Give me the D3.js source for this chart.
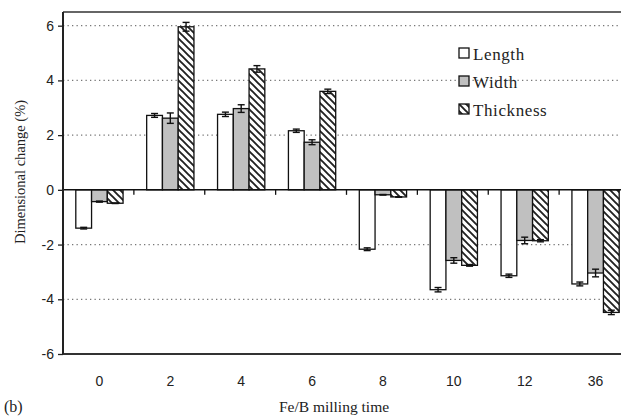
<!DOCTYPE html>
<html><head><meta charset="utf-8">
<script src="https://cdn.jsdelivr.net/npm/d3@7"></script>
<style>
html,body{margin:0;padding:0;background:#fff;}
svg{display:block;}
</style></head>
<body>
<script>
const categories = ["0","2","4","6","8","10","12","36"];
const seriesNames = ["Length","Width","Thickness"];
const lengthVals = [-1.40, 2.72, 2.76, 2.16, -2.17, -3.65, -3.14, -3.44];
const widthVals = [-0.43, 2.62, 2.97, 1.74, -0.18, -2.58, -1.85, -3.04];
const thickVals = [-0.49, 5.96, 4.42, 3.60, -0.26, -2.76, -1.86, -4.48];
const lengthErr = [0.03, 0.07, 0.08, 0.06, 0.05, 0.08, 0.06, 0.07];
const widthErr = [0.02, 0.19, 0.14, 0.09, 0.01, 0.10, 0.12, 0.14];
const thickErr = [0.01, 0.16, 0.12, 0.08, 0.01, 0.03, 0.04, 0.08];
const yTicks = [-6,-4,-2,0,2,4,6];

const W = 621, H = 418;
const m = {left:63, top:12, right:630, bottom:354};

const svg = d3.select("body").append("svg").attr("width",W).attr("height",H);

const defs = svg.append("defs");
const P = 7;
const pat = defs.append("pattern").attr("id","hatch").attr("patternUnits","userSpaceOnUse")
  .attr("width",P).attr("height",P);
pat.append("rect").attr("width",P).attr("height",P).attr("fill","#fff");
pat.append("path").attr("d",`M-1,-1 L${P+1},${P+1} M-1,${P-1} L1,${P+1} M${P-1},-1 L${P+1},1`)
  .attr("stroke","#222").attr("stroke-width",1.9);

const y = d3.scaleLinear().domain([-6,6.5]).range([m.bottom,m.top]);
const x0 = d3.scaleBand().domain(categories).range([m.left,m.right]).padding(0);
const groupW = x0.bandwidth()*0.667;
const x1 = d3.scaleBand().domain(seriesNames).range([0,groupW]).padding(0);
const gOff = (x0.bandwidth()-groupW)/2 + 1;

const fills = {Length:"#ffffff", Width:"#c0c0c0", Thickness:"url(#hatch)"};
const vals = {Length:lengthVals, Width:widthVals, Thickness:thickVals};
const errs = {Length:lengthErr, Width:widthErr, Thickness:thickErr};

// gridlines
svg.append("g").selectAll("line").data(yTicks.filter(d=>d!==0)).join("line")
  .attr("x1",m.left).attr("x2",m.right)
  .attr("y1",d=>y(d)).attr("y2",d=>y(d))
  .attr("stroke","#777").attr("stroke-width",1.2).attr("stroke-dasharray","1.3,3.2");

// plot border (top and bottom)
svg.append("line").attr("x1",m.left).attr("x2",m.right).attr("y1",m.top).attr("y2",m.top)
  .attr("stroke","#333").attr("stroke-width",1.3);
svg.append("line").attr("x1",m.left).attr("x2",m.right).attr("y1",m.bottom).attr("y2",m.bottom)
  .attr("stroke","#333").attr("stroke-width",1.8);

// bars
const rows = [];
categories.forEach((c,i)=>seriesNames.forEach(s=>rows.push({c,s,v:vals[s][i],e:errs[s][i]})));
const barG = svg.append("g");
barG.selectAll("rect").data(rows).join("rect")
  .attr("x",d=>x0(d.c)+gOff+x1(d.s))
  .attr("width",x1.bandwidth())
  .attr("y",d=>y(Math.max(0,d.v)))
  .attr("height",d=>Math.abs(y(d.v)-y(0)))
  .attr("fill",d=>fills[d.s]).attr("stroke","#111").attr("stroke-width",1.3);

// error bars
const eb = svg.append("g").attr("stroke","#111").attr("stroke-width",1.4);
rows.forEach(d=>{
  const cx = x0(d.c)+gOff+x1(d.s)+x1.bandwidth()/2;
  const y1 = y(d.v+d.e), y2 = y(d.v-d.e);
  eb.append("line").attr("x1",cx).attr("x2",cx).attr("y1",y1).attr("y2",y2);
  eb.append("line").attr("x1",cx-3.5).attr("x2",cx+3.5).attr("y1",y1).attr("y2",y1);
  eb.append("line").attr("x1",cx-3.5).attr("x2",cx+3.5).attr("y1",y2).attr("y2",y2);
});

// zero axis line with ticks between categories
svg.append("line").attr("x1",m.left).attr("x2",m.right).attr("y1",y(0)).attr("y2",y(0))
  .attr("stroke","#111").attr("stroke-width",1.5);
svg.append("g").selectAll("line").data(categories.slice(1)).join("line")
  .attr("x1",d=>x0(d)).attr("x2",d=>x0(d))
  .attr("y1",y(0)).attr("y2",y(0)+5)
  .attr("stroke","#111").attr("stroke-width",1.3);

// y axis
const yAxis = svg.append("g").attr("transform",`translate(${m.left},0)`)
  .call(d3.axisLeft(y).tickValues(yTicks).tickSize(5).tickSizeOuter(0).tickPadding(4).tickFormat(d=>String(d)));
yAxis.select(".domain").attr("stroke","#222").attr("stroke-width",2).attr("d",`M0,${m.top}V${m.bottom}`);
yAxis.selectAll(".tick line").attr("stroke","#222").attr("stroke-width",1.3);
yAxis.selectAll("text").attr("font-family","'Liberation Sans', Arial, sans-serif").attr("font-size",14).attr("fill","#222");

// x labels
const xAxis = svg.append("g").attr("transform",`translate(1,${m.bottom})`)
  .call(d3.axisBottom(x0).tickSize(0).tickPadding(22));
xAxis.select(".domain").remove();
xAxis.selectAll("text").attr("font-family","'Liberation Sans', Arial, sans-serif").attr("font-size",14).attr("fill","#222");

// axis titles
svg.append("text").attr("transform","translate(25,172) rotate(-90)")
  .attr("text-anchor","middle").attr("font-family","'Liberation Serif', 'Times New Roman', serif")
  .attr("font-size",14.5).attr("fill","#222").text("Dimensional change (%)");
svg.append("text").attr("x",334).attr("y",412)
  .attr("text-anchor","middle").attr("font-family","'Liberation Serif', 'Times New Roman', serif")
  .attr("font-size",15.5).attr("fill","#222").text("Fe/B milling time");
svg.append("text").attr("x",4).attr("y",412)
  .attr("font-family","'Liberation Serif', 'Times New Roman', serif")
  .attr("font-size",16).attr("fill","#222").text("(b)");

// legend
const leg = svg.append("g").attr("transform","translate(459,48)");
seriesNames.forEach((s,i)=>{
  const g = leg.append("g").attr("transform",`translate(0,${i*28})`);
  g.append("rect").attr("width",10).attr("height",10).attr("fill",fills[s]).attr("stroke","#111").attr("stroke-width",1.3);
  g.append("text").attr("x",14).attr("y",11.5).attr("font-family","'Liberation Serif', 'Times New Roman', serif")
    .attr("font-size",17).attr("letter-spacing",0.6).attr("fill","#222").text(s);
});
</script>
</body></html>
